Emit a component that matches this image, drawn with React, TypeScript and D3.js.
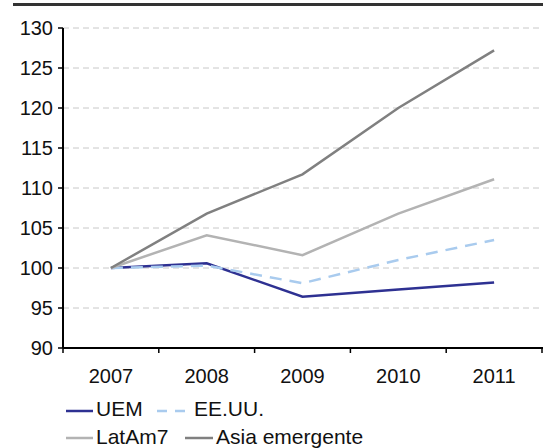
import React from "react";
import * as d3 from "d3";

const years = ["2007", "2008", "2009", "2010", "2011"];
const uem = [100, 100.6, 96.4, 97.3, 98.2];
const eeuu = [100, 100.3, 98.1, 101, 103.5];
const latam7 = [100, 104.1, 101.6, 106.8, 111.1];
const asia = [100, 106.8, 111.7, 120, 127.2];
const yTicks = [90, 95, 100, 105, 110, 115, 120, 125, 130];

const W = 549;
const H = 448;
const left = 63;
const right = 542;
const top = 28;
const bottom = 348;
const font = "'Liberation Sans', Arial, sans-serif";

const series = [
  { name: "UEM", values: uem, color: "#2e3192", dash: "", width: 2.5 },
  { name: "EE.UU.", values: eeuu, color: "#a9cbee", dash: "12,8", width: 2.5 },
  { name: "LatAm7", values: latam7, color: "#b3b3b3", dash: "", width: 2.5 },
  { name: "Asia emergente", values: asia, color: "#808080", dash: "", width: 2.5 },
];

const App = () => {
  const x = d3.scaleBand().domain(years).range([left, right]);
  const y = d3.scaleLinear().domain([90, 130]).range([bottom, top]);

  const line = d3
    .line<number>()
    .x((_, i) => (x(years[i]) as number) + x.bandwidth() / 2)
    .y((d) => y(d));

  // legend placement, two rows
  const legend = [
    { s: series[0], lx: 66, lx2: 93, tx: 96, ly: 411, ty: 416 },
    { s: series[1], lx: 157, lx2: 190, tx: 194, ly: 411, ty: 416 },
    { s: series[2], lx: 66, lx2: 93, tx: 96, ly: 438, ty: 444 },
    { s: series[3], lx: 185, lx2: 213, tx: 216, ly: 438, ty: 444 },
  ];

  return (
    <svg
      width={W}
      height={H}
      style={{ position: "absolute", left: 0, top: 0, background: "#fff" }}
      fontFamily={font}
    >
      <rect x={0} y={0} width={W} height={H} fill="#fff" />
      <line x1={13} x2={543} y1={4.5} y2={4.5} stroke="#333" strokeWidth={3} />

      {yTicks.slice(1).map((t) => (
        <line
          key={"g" + t}
          x1={left}
          x2={right}
          y1={y(t)}
          y2={y(t)}
          stroke="#c8c8c8"
          strokeWidth={1}
          strokeDasharray="6,4"
        />
      ))}

      {series.map((s) => (
        <path
          key={s.name}
          d={line(s.values) as string}
          fill="none"
          stroke={s.color}
          strokeWidth={s.width}
          strokeDasharray={s.dash}
        />
      ))}

      <line x1={left} x2={left} y1={top} y2={bottom} stroke="#000" strokeWidth={2} />
      <line x1={left} x2={right + 1} y1={bottom} y2={bottom} stroke="#000" strokeWidth={2} />

      {yTicks.map((t) => (
        <g key={"y" + t}>
          <line x1={left - 5} x2={left} y1={y(t)} y2={y(t)} stroke="#000" strokeWidth={1.5} />
          <text x={left - 10} y={y(t) + 7} textAnchor="end" fontSize={20} fill="#111">
            {t}
          </text>
        </g>
      ))}

      {years.concat(["end"]).map((yr, i) => {
        const px = i < years.length ? (x(yr) as number) : right;
        return (
          <line key={"xt" + i} x1={px} x2={px} y1={bottom} y2={bottom + 5} stroke="#000" strokeWidth={1.5} />
        );
      })}
      {years.map((yr) => (
        <text
          key={"xl" + yr}
          x={(x(yr) as number) + x.bandwidth() / 2}
          y={383}
          textAnchor="middle"
          fontSize={20}
          fill="#111"
        >
          {yr}
        </text>
      ))}

      {legend.map(({ s, lx, lx2, tx, ly, ty }) => (
        <g key={"l" + s.name}>
          <line
            x1={lx}
            x2={lx2}
            y1={ly}
            y2={ly}
            stroke={s.color}
            strokeWidth={2.5}
            strokeDasharray={s.dash ? "10,8" : ""}
          />
          <text x={tx} y={ty} fontSize={21} fill="#111">
            {s.name}
          </text>
        </g>
      ))}
    </svg>
  );
};

export default App;
